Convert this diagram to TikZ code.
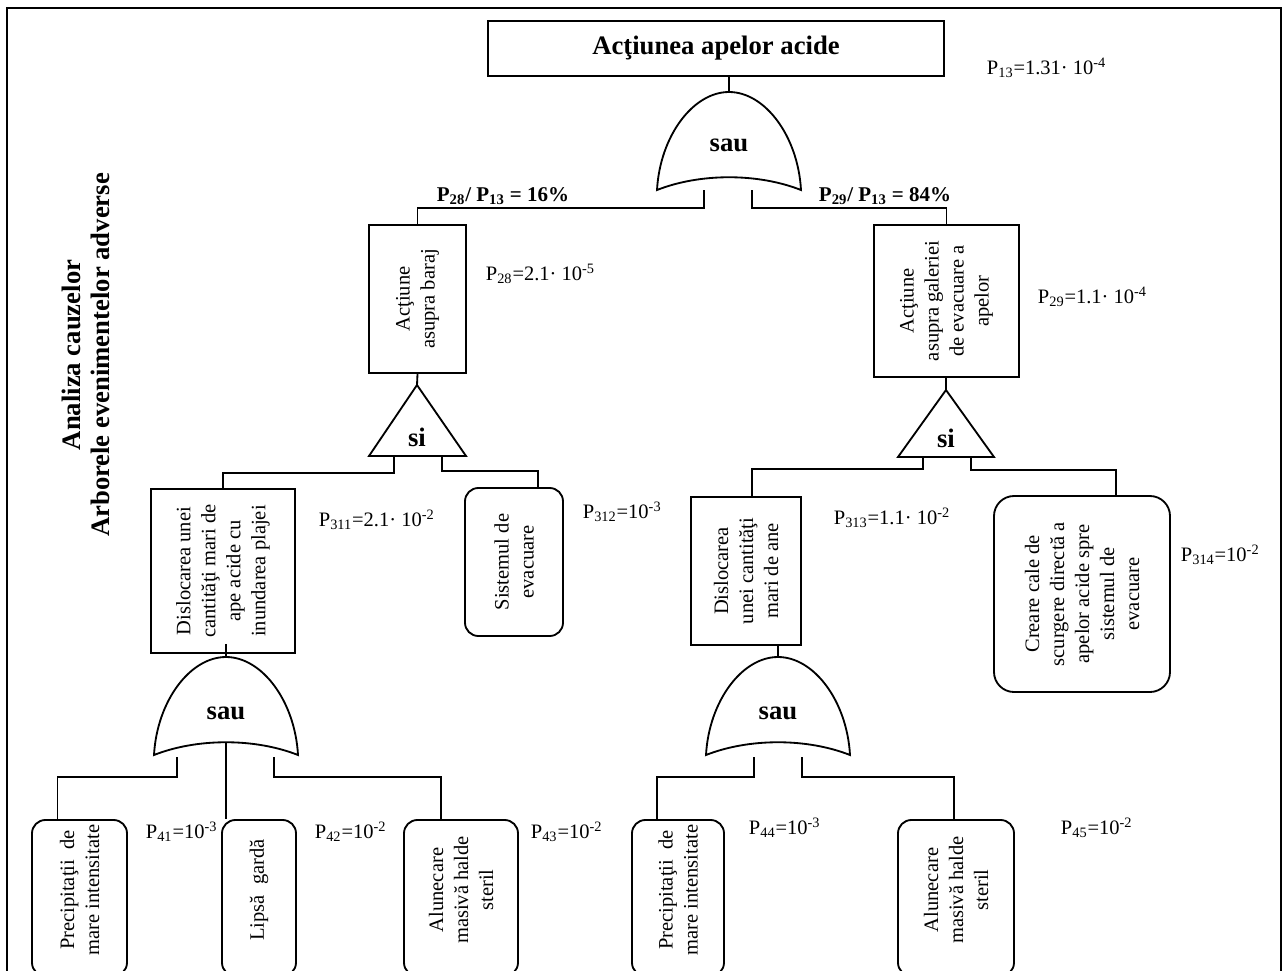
\documentclass[tikz,border=0pt]{standalone}
\usepackage{fontspec}
\setmainfont{Liberation Serif}
\usetikzlibrary{calc}
\newcommand{\mybox}[6]{\node[#6, minimum width={(#4-#2)*0.6pt}, minimum height={(#5-#3)*0.6pt}] (#1) at ({(#2+#4)/2},{(#3+#5)/2}) {};}
\newcommand{\orgate}[5]{% name, cx, yt, yb, hw
  \draw[gateline] ({#2-#5},#4) .. controls ({#2-#5+3},{#4-0.55*(#4-#3)}) and ({#2-0.5*#5},#3) .. (#2,#3)
     .. controls ({#2+0.5*#5},#3) and ({#2+#5-3},{#4-0.55*(#4-#3)}) .. ({#2+#5},#4)
     .. controls ({#2+0.4*#5},{#4-17}) and ({#2-0.4*#5},{#4-17}) .. cycle;
  \coordinate (#1) at (#2,#3);}
\begin{document}
\begin{tikzpicture}[x=0.6pt,y=-0.6pt,
  line width=1.1pt,
  box/.style={draw, line width=1.1pt, inner sep=0},
  rbox/.style={draw, line width=1.1pt, inner sep=0, rounded corners=8pt},
  rrbox/.style={draw, line width=1.1pt, inner sep=0, rounded corners=12pt},
  gateline/.style={line width=1.1pt},
  rtext/.style={rotate=90, align=center, inner sep=0, font=\fontsize{12.3}{15}\selectfont},
  plab/.style={anchor=west, inner sep=0, font=\fontsize{12.3}{15}\selectfont},
  gtext/.style={inner sep=0, font=\fontsize{16}{19}\selectfont\bfseries},
  ratio/.style={anchor=south west, inner sep=0, font=\fontsize{12.6}{15}\selectfont\bfseries},
  conn/.style={line width=1.1pt}]
\useasboundingbox (0,0) rectangle (1285,971);
\clip (0,0) rectangle (1285,971);
% frame
\draw[line width=1.2pt] (7,990) -- (7,8) -- (1281,8) -- (1281,990);

% side title
\node[rotate=90, align=center, inner sep=0, font=\fontsize{16}{17.5}\selectfont\bfseries] (side) at (86,355) {Analiza cauzelor\\Arborele evenimentelor adverse};

% top event
\mybox{top}{488}{21}{944}{76}{box}
\node[gtext] (toptext) at (top) {Acţiunea apelor acide};
\node[plab] (p13) at (986,68) {P\textsubscript{13}=1.31· 10\textsuperscript{-4}};

% top OR gate
\orgate{g1}{729}{92}{190}{72}
\node[gtext] (g1t) at (729,145) {sau};
\coordinate (g1l) at (704,190);
\coordinate (g1r) at (752,190);

% level 2 boxes
\mybox{b28}{369}{225}{466}{373}{box}
\node[rtext] (t28) at (b28) {Acţiune\\asupra baraj};
\node[plab] (p28) at (485,274) {P\textsubscript{28}=2.1· 10\textsuperscript{-5}};
\mybox{b29}{874}{225}{1019}{377}{box}
\node[rtext] (t29) at (b29) {Acţiune\\asupra galeriei\\de evacuare a\\apelor};
\node[plab] (p29) at (1037,297) {P\textsubscript{29}=1.1· 10\textsuperscript{-4}};

\node[ratio] (r28) at (436,206) {P\textsubscript{28}/ P\textsubscript{13} = 16\%};
\node[ratio] (r29) at (818,206) {P\textsubscript{29}/ P\textsubscript{13} = 84\%};

\draw[conn] (g1 |- top.south) -- (g1);
\draw[conn] (g1l) -- ++(0,18) -| (b28.north);
\draw[conn] (g1r) -- ++(0,18) -| (b29.north);

% AND gates
\draw[gateline] (417,385) -- (466,456) -- (369,456) -- cycle;
\coordinate (a1) at (417,385);
\node[gtext] (a1t) at (417,437) {si};
\coordinate (a1l) at (394,456);
\coordinate (a1r) at (442,456);
\draw[gateline] (946,390) -- (994,457) -- (898,457) -- cycle;
\coordinate (a2) at (946,390);
\node[gtext] (a2t) at (946,438) {si};
\coordinate (a2l) at (923,457);
\coordinate (a2r) at (971,457);
\draw[conn] (b28.south) -- (a1);
\draw[conn] (a2 |- b29.south) -- (a2);

% level 3 boxes
\mybox{b311}{151}{489}{295}{653}{box}
\node[rtext] (t311) at (b311) {Dislocarea unei\\cantităţi mari de\\ape acide cu\\inundarea plajei};
\node[plab] (p311) at (318,520) {P\textsubscript{311}=2.1· 10\textsuperscript{-2}};
\mybox{b312}{465}{488}{563}{636}{rbox}
\node[rtext] (t312) at (b312) {Sistemul de\\evacuare};
\node[plab] (p312) at (582,512) {P\textsubscript{312}=10\textsuperscript{-3}};
\mybox{b313}{691}{497}{801}{645}{box}
\node[rtext] (t313) at (b313) {Dislocarea\\unei cantităţi\\mari de ane};
\node[plab] (p313) at (833,518) {P\textsubscript{313}=1.1· 10\textsuperscript{-2}};
\mybox{b314}{994}{496}{1170}{692}{rrbox}
\node[rtext] (t314) at (b314) {Creare cale de\\scurgere directă a\\apelor acide spre\\sistemul de\\evacuare};
\node[plab] (p314) at (1180,555) {P\textsubscript{314}=10\textsuperscript{-2}};

\draw[conn] (a1l) -- ++(0,17) -| (b311.north);
\draw[conn] (a1r) -- ++(0,15) -| ($(b312.north)+(24,0)$);
\draw[conn] (a2l) -- ++(0,12) -| ($(b313.north)+(6,0)$);
\draw[conn] (a2r) -- ++(0,13) -| ($(b314.north)+(34,0)$);

% lower OR gates
\orgate{g2}{226}{657}{755}{72}
\node[gtext] (g2t) at (226,713) {sau};
\orgate{g3}{778}{657}{755}{72}
\node[gtext] (g3t) at (778,713) {sau};
\draw[conn] ($(b311.south)+(3,-10)$) -- (g2);
\draw[conn] (g3 |- b313.south) -- (g3);
\coordinate (g2l) at (177,757);
\coordinate (g2m) at (226,743);
\coordinate (g2r) at (274,757);
\coordinate (g3l) at (754,757);
\coordinate (g3r) at (802,757);

% bottom boxes
\mybox{b41}{32}{820}{127}{976}{rbox}
\node[rtext] (t41) at (79.5,890) {Precipitaţii~ de\\mare intensitate};
\node[plab] (p41) at (145,832) {P\textsubscript{41}=10\textsuperscript{-3}};
\mybox{b42}{222}{820}{296}{976}{rbox}
\node[rtext] (t42) at (259,890) {Lipsă~ gardă};
\node[plab] (p42) at (314,832) {P\textsubscript{42}=10\textsuperscript{-2}};
\mybox{b43}{404}{820}{518}{976}{rbox}
\node[rtext] (t43) at (461,890) {Alunecare\\masivă halde\\steril};
\node[plab] (p43) at (530,832) {P\textsubscript{43}=10\textsuperscript{-2}};
\mybox{b44}{632}{820}{724}{976}{rbox}
\node[rtext] (t44) at (678,890) {Precipitaţii~ de\\mare intensitate};
\node[plab] (p44) at (748,828) {P\textsubscript{44}=10\textsuperscript{-3}};
\mybox{b45}{898}{820}{1014}{976}{rbox}
\node[rtext] (t45) at (956,890) {Alunecare\\masivă halde\\steril};
\node[plab] (p45) at (1060,828) {P\textsubscript{45}=10\textsuperscript{-2}};

\draw[conn] (g2l) -- (177,777) -| ($(b41.north)+(-22,0)$);
\draw[conn] (g2m) -- (g2m |- b42.north);
\draw[conn] (g2r) -- (274,777) -| ($(b43.north)+(-20,0)$);
\draw[conn] (g3l) -- (754,777) -| ($(b44.north)+(-21,0)$);
\draw[conn] (g3r) -- (802,777) -| ($(b45.north)+(-2,0)$);
\end{tikzpicture}
\end{document}
